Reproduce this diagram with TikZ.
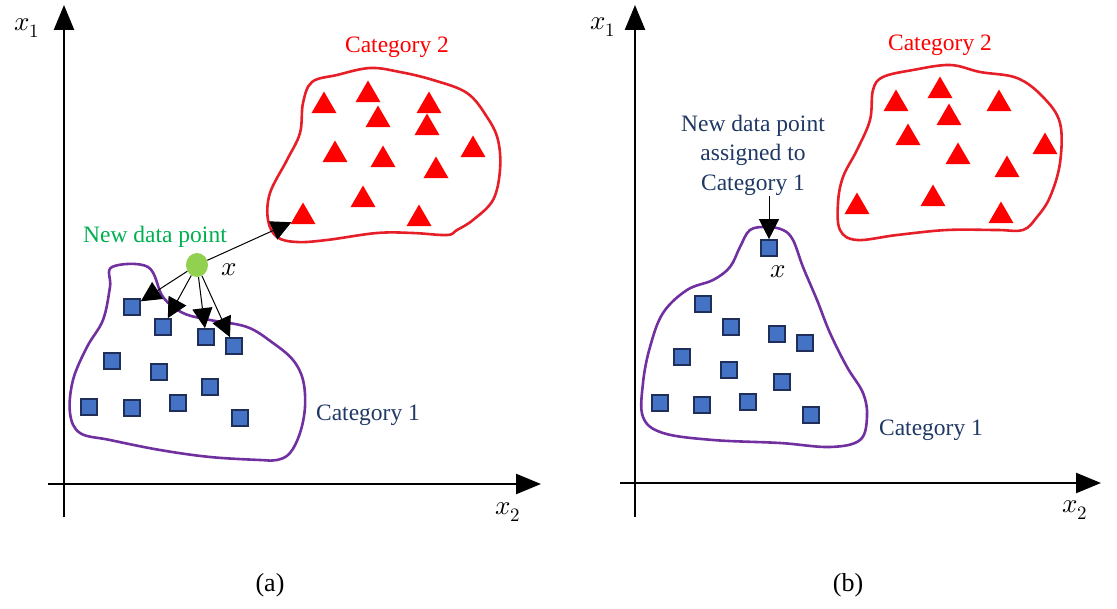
\documentclass[tikz,border=0pt]{standalone}
\usepackage{fontspec}
\usepackage{unicode-math}
\setmainfont{Liberation Serif}
\setmathfont{Latin Modern Math}
\usetikzlibrary{arrows.meta,shapes.geometric}
\definecolor{sqfill}{RGB}{68,114,196}
\definecolor{sqedge}{RGB}{31,47,90}
\definecolor{blobpurple}{RGB}{112,48,160}
\definecolor{catred}{RGB}{255,0,0}
\definecolor{linered}{RGB}{230,30,40}
\definecolor{ptgreen}{RGB}{146,208,80}
\definecolor{txtgreen}{RGB}{0,176,80}
\definecolor{txtblue}{RGB}{31,56,100}
\tikzset{
  sq/.style={rectangle, draw=sqedge, fill=sqfill, line width=1.6pt, minimum size=16pt, inner sep=0pt},
  tri/.style={regular polygon, regular polygon sides=3, fill=catred, minimum size=29pt, inner sep=0pt},
  blobone/.style={draw=blobpurple, line width=2.6pt},
  blobtwo/.style={draw=linered, line width=2.6pt},
  axisline/.style={line width=2.5pt, -{Triangle[length=25pt,width=20pt]}},
  pointer/.style={line width=1pt, -{Triangle[length=20pt,width=20pt]}},
  lbl/.style={font=\fontsize{23.5}{29.5}\selectfont, inner sep=0pt},
  caplbl/.style={font=\fontsize{26}{30}\selectfont, inner sep=0pt},
  mathlbl/.style={font=\fontsize{27}{32}\selectfont, inner sep=0pt},
}
\begin{document}
\begin{tikzpicture}[x=1pt,y=-1pt]
\useasboundingbox (0,0) rectangle (1117,609);
% ---------------- panel (a) ----------------
\coordinate (ay0) at (64,517);
\coordinate (ay1) at (64,5);
\coordinate (ax0) at (48,484);
\coordinate (ax1) at (541,484);
\draw[axisline] (ay0) -- (ay1);
\draw[axisline] (ax0) -- (ax1);
\node[mathlbl] (ax1lbl) at (27,28) {$x_1$};
\node[mathlbl] (ax2lbl) at (508,512) {$x_2$};

\draw[blobone] plot[smooth cycle, tension=0.6] coordinates {(112,267) (148,267) (163,297) (183,313) (210,320) (247,327) (273,343) (293,360) (303,380) (305,407) (300,433) (290,453) (277,460) (260,460) (210,457) (160,450) (110,440) (80,433) (70,413) (73,380) (87,347) (103,320) (110,287)};
\draw[blobtwo] plot[smooth cycle, tension=0.6] coordinates {(312,82) (337,75) (370,68) (400,72) (433,80) (467,93) (487,117) (498,140) (500,170) (493,200) (473,220) (457,230) (447,235) (413,233) (377,233) (327,240) (297,242) (277,237) (268,220) (270,193) (287,160) (300,133) (303,103)};

\node[sq] (as1) at (132,307) {};
\node[sq] (as2) at (163,327) {};
\node[sq] (as3) at (206,337) {};
\node[sq] (as4) at (234,346) {};
\node[sq] (as5) at (112,361) {};
\node[sq] (as6) at (159,372) {};
\node[sq] (as7) at (210,387) {};
\node[sq] (as8) at (89,407) {};
\node[sq] (as9) at (132,408) {};
\node[sq] (as10) at (178,403) {};
\node[sq] (as11) at (240,418) {};

\node[tri] (at1) at (324,106) {};
\node[tri] (at2) at (368,95) {};
\node[tri] (at3) at (429,106) {};
\node[tri] (at4) at (378,120) {};
\node[tri] (at5) at (427,128) {};
\node[tri] (at6) at (335,155) {};
\node[tri] (at7) at (383,160) {};
\node[tri] (at8) at (473,150) {};
\node[tri] (at9) at (436,171) {};
\node[tri] (at10) at (363,200) {};
\node[tri] (at11) at (303,217) {};
\node[tri] (at12) at (419,219) {};

\node[ellipse, fill=ptgreen, minimum width=22pt, minimum height=24pt, inner sep=0pt] (gp) at (197,265) {};
\node[mathlbl] (gpx) at (229,270) {$x$};
\node[lbl, text=txtgreen] (newpt) at (155,237) {New data point};
\node[lbl, text=catred] (acat2) at (397,47) {Category 2};
\node[lbl, text=txtblue] (acat1) at (368,415) {Category 1};

\draw[pointer] (gp) -- (at11);
\draw[pointer] (gp) -- (as1);
\draw[pointer] (gp) -- (as2);
\draw[pointer] (gp) -- (as3);
\draw[pointer] (gp) -- (as4);

\node[caplbl] (capa) at (270,585) {(a)};

% ---------------- panel (b) ----------------
\coordinate (by0) at (635,517);
\coordinate (by1) at (635,5);
\coordinate (bx0) at (620,483);
\coordinate (bx1) at (1101,483);
\draw[axisline] (by0) -- (by1);
\draw[axisline] (bx0) -- (bx1);
\node[mathlbl] (bx1lbl) at (603,27) {$x_1$};
\node[mathlbl] (bx2lbl) at (1075,510) {$x_2$};

\draw[blobone] plot[smooth cycle, tension=0.6] coordinates {(767,227) (783,230) (793,240) (803,267) (817,300) (830,333) (847,367) (863,393) (867,417) (860,440) (830,447) (780,443) (713,440) (663,433) (643,417) (643,383) (650,347) (663,313) (687,290) (713,280) (730,267) (740,247) (750,230)};
\draw[blobtwo] plot[smooth cycle, tension=0.6] coordinates {(883,77) (913,70) (950,65) (980,72) (1017,78) (1043,97) (1060,123) (1060,163) (1050,197) (1037,217) (1023,230) (997,230) (947,230) (897,235) (857,240) (840,230) (838,203) (843,177) (857,150) (870,120) (873,90)};

\node[sq] (bs0) at (769,248) {};
\node[sq] (bs1) at (703,304) {};
\node[sq] (bs2) at (731,327) {};
\node[sq] (bs3) at (777,334) {};
\node[sq] (bs4) at (805,343) {};
\node[sq] (bs5) at (682,357) {};
\node[sq] (bs6) at (729,370) {};
\node[sq] (bs7) at (782,382) {};
\node[sq] (bs8) at (660,403) {};
\node[sq] (bs9) at (702,405) {};
\node[sq] (bs10) at (748,402) {};
\node[sq] (bs11) at (811,415) {};

\node[tri] (bt1) at (896,104) {};
\node[tri] (bt2) at (940,91) {};
\node[tri] (bt3) at (999,104) {};
\node[tri] (bt4) at (949,118) {};
\node[tri] (bt5) at (908,138) {};
\node[tri] (bt6) at (958,157) {};
\node[tri] (bt7) at (1045,147) {};
\node[tri] (bt8) at (1007,170) {};
\node[tri] (bt9) at (933,199) {};
\node[tri] (bt10) at (857,207) {};
\node[tri] (bt11) at (1001,216) {};

\node[lbl, text=txtblue, align=center] (assigned) at (753,155) {New data point\\assigned to\\Category 1};
\coordinate (bstart) at (769,196);
\draw[pointer] (bstart) -- (bs0);
\node[mathlbl] (bsx) at (778,272) {$x$};
\node[lbl, text=catred] (bcat2) at (940,45) {Category 2};
\node[lbl, text=txtblue] (bcat1) at (931,430) {Category 1};

\node[caplbl] (capb) at (848,585) {(b)};
\end{tikzpicture}
\end{document}
